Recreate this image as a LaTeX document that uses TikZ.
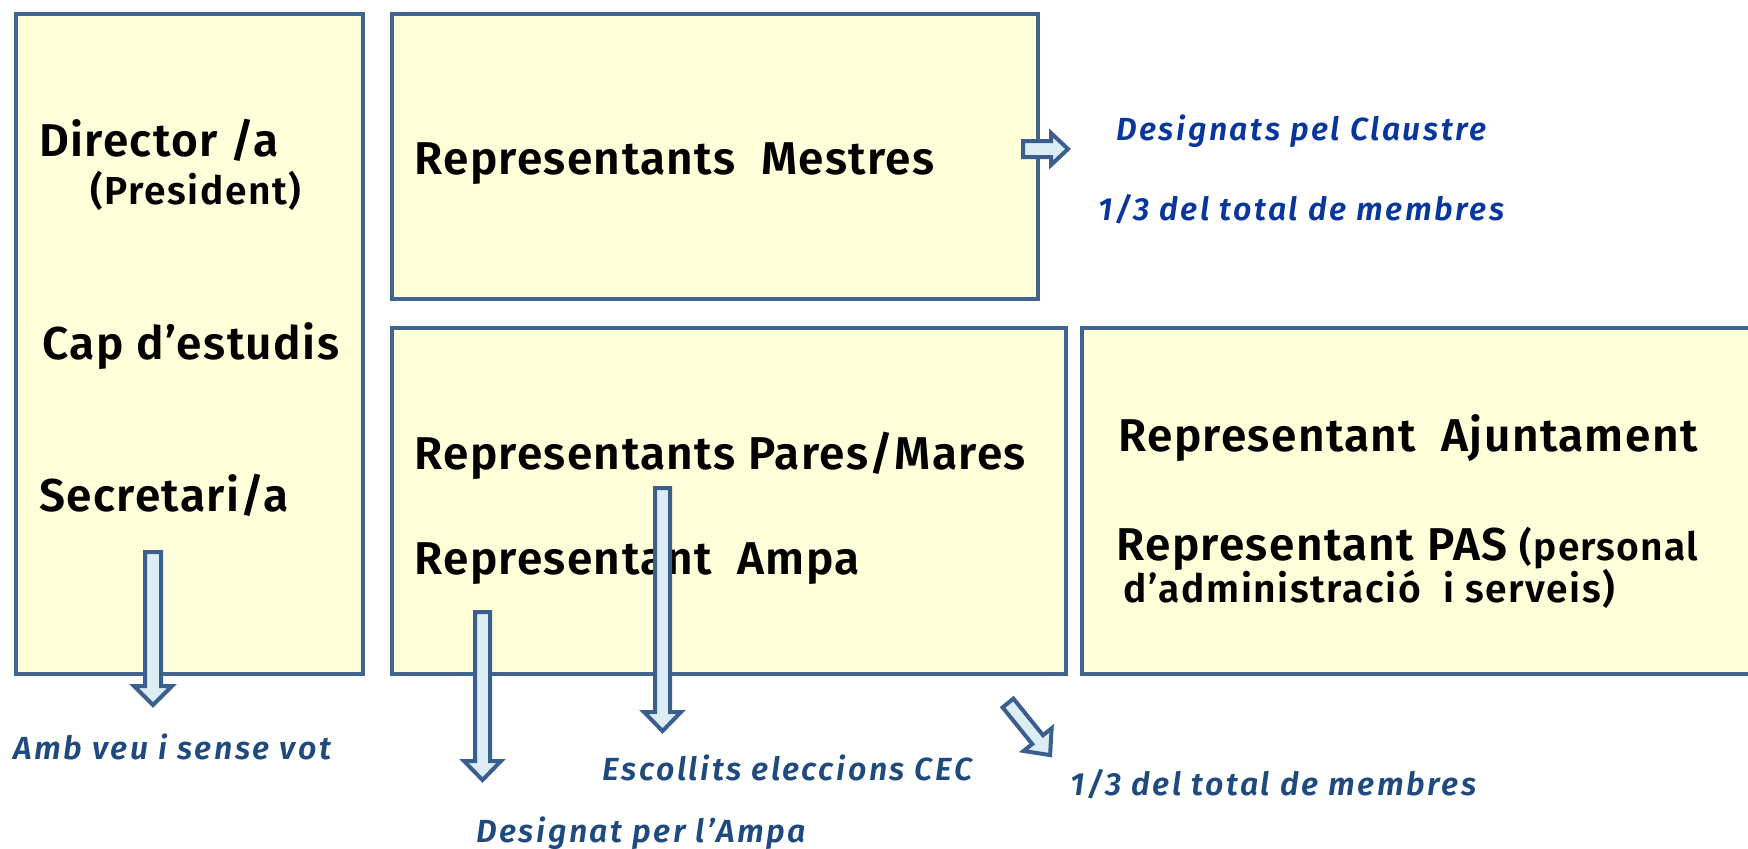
\documentclass[tikz,border=0pt]{standalone}
\usepackage{fontspec}
\setmainfont{Fira Sans}[BoldFont={Fira Sans SemiBold},BoldItalicFont={Fira Sans SemiBold Italic}]
\definecolor{boxfill}{HTML}{FFFFDA}
\definecolor{boxline}{HTML}{41648F}
\definecolor{arrfill}{HTML}{DCEEF4}
\definecolor{arrline}{HTML}{3A5F8F}
\definecolor{topblue}{HTML}{08369C}
\definecolor{botblue}{HTML}{1F4A7E}
\begin{document}
\begin{tikzpicture}[x=0.5pt,y=-0.5pt,
  panel/.style={draw=boxline,fill=boxfill,line width=2pt},
  main/.style={anchor=base west,inner sep=0pt,font=\bfseries\fontsize{23}{27}\selectfont\addfontfeature{LetterSpace=3}},
  small/.style={anchor=base west,inner sep=0pt,font=\bfseries\fontsize{19.5}{23}\selectfont\addfontfeature{LetterSpace=4}},
  lbltop/.style={anchor=base west,inner sep=0pt,text=topblue,font=\bfseries\itshape\fontsize{16}{19}\selectfont\addfontfeature{LetterSpace=8}},
  lblbot/.style={anchor=base west,inner sep=0pt,text=botblue,font=\bfseries\itshape\fontsize{16}{19}\selectfont\addfontfeature{LetterSpace=8}},
  blockarrow/.style={draw=arrline,fill=arrfill,line width=2pt,line join=miter}]
\useasboundingbox (0,0) rectangle (1748,848);
\begin{scope}
\clip (0,0) rectangle (1748,848);
% boxes
\draw[panel] (16,14) rectangle (363,674);
\draw[panel] (392,14) rectangle (1038,299);
\draw[panel] (392,328) rectangle (1066,674);
\draw[panel] (1082,328) rectangle (1770,674);
\end{scope}
% texts
\node[main] (dir) at (39,156) {Director /a};
\node[small] (pres) at (90,204) {(President)};
\node[main] (cap) at (42,359) {Cap d’estudis};
\node[main] (sec) at (39,511) {Secretari/a};
\node[main] (mes) at (414,174) {Representants\ \ Mestres};
\node[lbltop] (cla) at (1116,140) {Designats pel Claustre};
\node[lbltop] (terc1) at (1098,220) {1/3 del total de membres};
\node[main] (par) at (414,469) {Representants Pares/Mares};
\node[main] (amp) at (414,574) {Representant\ \ Ampa};
\node[main] (aju) at (1118,451) {Representant\ \ Ajuntament};
\node[main] (pas) at (1116,560) {Representant PAS {\fontsize{19.5}{23}\selectfont(personal}};
\node[small] (adm) at (1123,602) {d’administració\ \ i serveis)};
\node[lblbot] (veu) at (13,759) {Amb veu i sense vot};
\node[lblbot] (cec) at (602,780) {Escollits eleccions CEC};
\node[lblbot] (dam) at (476,842) {Designat per l’Ampa};
\node[lblbot] (terc2) at (1070,795) {1/3 del total de membres};
% block arrows
\draw[blockarrow] (1023,141) -- (1051,141) -- (1051,133) -- (1068,149) -- (1051,165) -- (1051,157) -- (1023,157) -- cycle;
\draw[blockarrow] (145,552) -- (161,552) -- (161,686) -- (172,686) -- (153,705) -- (134,686) -- (145,686) -- cycle;
\draw[blockarrow] (475,612) -- (490,612) -- (490,761) -- (501,761) -- (482.5,780) -- (464,761) -- (475,761) -- cycle;
\draw[blockarrow] (655,488) -- (670,488) -- (670,712) -- (681,712) -- (662.5,731) -- (644,712) -- (655,712) -- cycle;
\draw[blockarrow] (1013.4,698.6) -- (1043.0,735.2) -- (1051.6,728.3) -- (1050.1,755.1) -- (1023.6,750.9) -- (1032.2,744.0) -- (1002.6,707.4) -- cycle;
\end{tikzpicture}
\end{document}
